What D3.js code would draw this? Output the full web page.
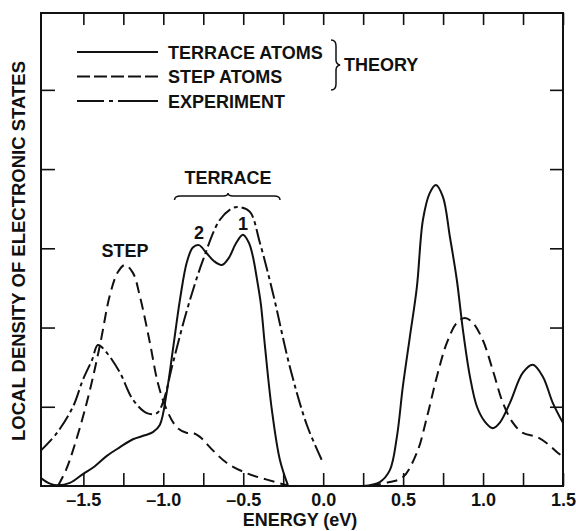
<!DOCTYPE html>
<html>
<head>
<meta charset="utf-8">
<script src="https://cdn.jsdelivr.net/npm/d3@7"></script>
<style>
  body { margin: 0; background: #fff; }
  svg { display: block; }
  text { font-family: "Liberation Sans", Arial, Helvetica, sans-serif; font-weight: bold; fill: #111; }
</style>
</head>
<body>
<svg id="chart" width="576" height="531"></svg>
<script>
// energy (eV), local density of states (arbitrary units, 1 per y tick)
var terraceLeft = [
  [-1.765, 0.10], [-1.709, 0.03], [-1.659, 0.01], [-1.584, 0.04], [-1.503, 0.15],
  [-1.428, 0.25], [-1.353, 0.38], [-1.271, 0.49], [-1.190, 0.59], [-1.115, 0.64],
  [-1.065, 0.68], [-1.022, 0.77], [-0.978, 1.19], [-0.940, 1.72], [-0.896, 2.35],
  [-0.852, 2.83], [-0.815, 3.01], [-0.777, 3.04], [-0.734, 2.95], [-0.684, 2.84],
  [-0.634, 2.79], [-0.590, 2.88], [-0.546, 3.06], [-0.502, 3.17], [-0.465, 3.07],
  [-0.440, 2.90], [-0.415, 2.62], [-0.390, 2.30], [-0.365, 1.78], [-0.321, 0.96],
  [-0.271, 0.33], [-0.221, 0.01]
];
var terraceRight = [
  [0.248, 0.00], [0.354, 0.05], [0.417, 0.20], [0.461, 0.62], [0.498, 1.25],
  [0.542, 1.88], [0.586, 2.51], [0.624, 3.36], [0.667, 3.70], [0.705, 3.80],
  [0.749, 3.65], [0.793, 3.14], [0.836, 2.60], [0.874, 1.97], [0.918, 1.38],
  [0.962, 1.00], [1.012, 0.81], [1.061, 0.73], [1.105, 0.80], [1.168, 1.05],
  [1.249, 1.43], [1.311, 1.53], [1.374, 1.38], [1.436, 1.05], [1.499, 0.80]
];
var stepLeft = [
  [-1.659, 0.00], [-1.609, 0.20], [-1.565, 0.45], [-1.503, 0.87], [-1.459, 1.21],
  [-1.396, 1.78], [-1.334, 2.41], [-1.284, 2.70], [-1.240, 2.79], [-1.190, 2.69],
  [-1.146, 2.39], [-1.084, 1.81], [-1.034, 1.30], [-0.978, 0.96], [-0.915, 0.74],
  [-0.852, 0.67], [-0.815, 0.67], [-0.771, 0.62], [-0.690, 0.45], [-0.602, 0.29],
  [-0.477, 0.16], [-0.352, 0.08], [-0.227, 0.01]
];
var stepRight = [
  [0.292, 0.00], [0.417, 0.05], [0.498, 0.11], [0.586, 0.42], [0.649, 0.87],
  [0.711, 1.38], [0.774, 1.81], [0.836, 2.06], [0.886, 2.12], [0.936, 2.06],
  [0.999, 1.84], [1.061, 1.46], [1.124, 1.05], [1.186, 0.80], [1.249, 0.67],
  [1.336, 0.62], [1.399, 0.54], [1.461, 0.43], [1.499, 0.37]
];
var experiment = [
  [-1.765, 0.45], [-1.665, 0.67], [-1.565, 1.00], [-1.503, 1.34], [-1.446, 1.59],
  [-1.409, 1.78], [-1.353, 1.68], [-1.271, 1.43], [-1.190, 1.09], [-1.103, 0.92],
  [-1.040, 0.92], [-1.003, 1.05], [-0.940, 1.55], [-0.852, 2.22], [-0.752, 2.85],
  [-0.646, 3.36], [-0.565, 3.51], [-0.521, 3.52], [-0.458, 3.46], [-0.396, 3.07],
  [-0.315, 2.44], [-0.208, 1.50], [-0.102, 0.77], [0.0, 0.29]
];

var minorTicks = [-1.5, -1.25, -1.0, -0.75, -0.5, -0.25, 0, 0.25, 0.5, 0.75, 1.0, 1.25, 1.5];
var labelTicks = [-1.5, -1.0, -0.5, 0, 0.5, 1.0, 1.5];
var tickLabels = ["\u20131.5", "\u20131.0", "\u20130.5", "0.0", "0.5", "1.0", "1.5"];
var yTicks = [1, 2, 3, 4, 5];

var legendItems = ["TERRACE ATOMS", "STEP ATOMS", "EXPERIMENT"];

var svg = d3.select("#chart");

var x = d3.scaleLinear().domain([-1.765, 1.5]).range([41, 563]);
var y = d3.scaleLinear().domain([0, 5.97]).range([486, 13]);

var fs = "18px";

// frame
svg.append("rect")
  .attr("x", x(-1.765)).attr("y", y(5.97))
  .attr("width", x(1.5) - x(-1.765)).attr("height", y(0) - y(5.97))
  .attr("fill", "none").attr("stroke", "#111").attr("stroke-width", 2);

function tickStyle(g) {
  g.select(".domain").remove();
  g.selectAll(".tick line").attr("stroke", "#111").attr("stroke-width", 1.6);
  g.selectAll(".tick text").remove();
}

svg.append("g").attr("transform", "translate(0," + y(0) + ")")
  .call(d3.axisBottom(x).tickValues(minorTicks).tickSize(-13)).call(tickStyle);
svg.append("g").attr("transform", "translate(0," + y(5.97) + ")")
  .call(d3.axisTop(x).tickValues(minorTicks).tickSize(-12)).call(tickStyle);
svg.append("g").attr("transform", "translate(" + x(-1.765) + ",0)")
  .call(d3.axisLeft(y).tickValues(yTicks).tickSize(-14)).call(tickStyle);
svg.append("g").attr("transform", "translate(" + x(1.5) + ",0)")
  .call(d3.axisRight(y).tickValues(yTicks).tickSize(-13)).call(tickStyle);

// tick labels
var xl = svg.append("g").attr("transform", "translate(0," + y(0) + ")")
  .call(d3.axisBottom(x).tickValues(labelTicks).tickSize(0).tickPadding(7.5)
    .tickFormat(function (d, i) { return tickLabels[i]; }));
xl.select(".domain").remove();
xl.attr("font-family", null).attr("font-size", null);
xl.selectAll("text").style("font-size", fs).attr("fill", "#111");

svg.append("text").attr("x", 300).attr("y", 526)
  .attr("text-anchor", "middle").style("font-size", fs).text("ENERGY (eV)");

svg.append("text")
  .attr("transform", "translate(25,251) rotate(-90)")
  .attr("text-anchor", "middle").style("font-size", "18.5px")
  .text("LOCAL DENSITY OF ELECTRONIC STATES");

// curves
var line = d3.line()
  .x(function (d) { return x(d[0]); })
  .y(function (d) { return y(d[1]); })
  .curve(d3.curveCatmullRom.alpha(0.5));

function drawCurve(data, dash) {
  svg.append("path")
    .datum(data)
    .attr("d", line)
    .attr("fill", "none")
    .attr("stroke", "#111")
    .attr("stroke-width", 2)
    .attr("stroke-dasharray", dash);
}

drawCurve(terraceLeft, null);
drawCurve(terraceRight, null);
drawCurve(stepLeft, "11,6");
drawCurve(stepRight, "11,6");
drawCurve(experiment, "16,4,4,4");

// legend
var dashes = [null, "13,4", "27,5,4,5,40"];
legendItems.forEach(function (d, i) {
  var ly = 52 + i * 24.5;
  svg.append("line")
    .attr("x1", 77).attr("x2", 158).attr("y1", ly).attr("y2", ly)
    .attr("stroke", "#111").attr("stroke-width", 2)
    .attr("stroke-dasharray", dashes[i]);
  svg.append("text").attr("x", 168).attr("y", ly + 6.5)
    .style("font-size", fs).text(d);
});

// legend brace
svg.append("path")
  .attr("d", "M331,40 Q336,40 336,46 L336,60 Q336,64 340,65 Q336,66 336,70 L336,84 Q336,90 331,90")
  .attr("fill", "none").attr("stroke", "#111").attr("stroke-width", 1.5);
svg.append("text").attr("x", 344).attr("y", 71).style("font-size", fs).text("THEORY");

// annotations
svg.append("text").attr("x", x(-1.24)).attr("y", 257)
  .attr("text-anchor", "middle").style("font-size", fs).text("STEP");
svg.append("text").attr("x", x(-0.595)).attr("y", 184)
  .attr("text-anchor", "middle").style("font-size", fs).text("TERRACE");
svg.append("text").attr("x", x(-0.777)).attr("y", 239)
  .attr("text-anchor", "middle").style("font-size", fs).text("2");
svg.append("text").attr("x", x(-0.502)).attr("y", 230)
  .attr("text-anchor", "middle").style("font-size", fs).text("1");

// brace over terrace peaks
var bx0 = x(-0.93), bx1 = x(-0.27), bm = x(-0.595), by = 196;
svg.append("path")
  .attr("d", "M" + bx0 + "," + (by + 4) + " Q" + bx0 + "," + by + " " + (bx0 + 6) + "," + by +
    " L" + (bm - 5) + "," + by + " Q" + bm + "," + by + " " + bm + "," + (by - 3) +
    " Q" + bm + "," + by + " " + (bm + 5) + "," + by +
    " L" + (bx1 - 6) + "," + by + " Q" + bx1 + "," + by + " " + bx1 + "," + (by + 4))
  .attr("fill", "none").attr("stroke", "#111").attr("stroke-width", 1.5);
</script>
</body>
</html>
